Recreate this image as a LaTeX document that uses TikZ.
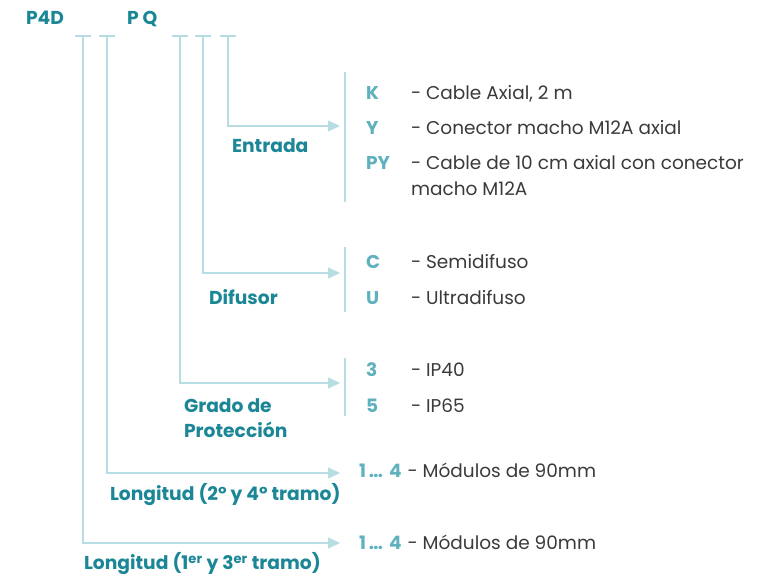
\documentclass[tikz,border=0pt]{standalone}
\usepackage{fontspec}
\setmainfont{Poppins}
\usetikzlibrary{arrows.meta}
\definecolor{darkteal}{HTML}{1B8796}
\definecolor{lightteal}{HTML}{5FB1BE}
\definecolor{linecol}{HTML}{B7DCE3}
\definecolor{txtgray}{HTML}{3A3A3A}
\begin{document}
\begin{tikzpicture}[x=1pt,y=-1pt,
  every node/.style={inner sep=0pt,outer sep=0pt,anchor=base west},
  code/.style={font=\fontsize{18.7}{22}\selectfont\bfseries,text=darkteal},
  lbl/.style={font=\fontsize{18.7}{25}\selectfont\bfseries,text=darkteal,align=left},
  keyc/.style={font=\fontsize{18.5}{22}\selectfont\bfseries,text=lightteal},
  desc/.style={font=\fontsize{18.5}{26}\selectfont,text=txtgray,align=left},
  conn/.style={draw=linecol,line width=1.5pt,-{Triangle[length=12pt,width=11pt]}},
  tick/.style={draw=linecol,line width=1.5pt},
  sepline/.style={draw=linecol,line width=1.5pt}]
\useasboundingbox (0,0) rectangle (769,580);
% header codes
\node[code] (p4d) at (26,24.5) {P4D};
\node[code] (pq) at (127,24.5) {P\hspace{4pt}Q};
% T ticks
\foreach \n/\x in {t1/83,t2/107,t3/180,t4/203,t5/228}{
  \coordinate (\n) at (\x,36);
  \draw[tick] ([xshift=-8pt]\n) -- ([xshift=8pt]\n);
}
% arrow ends
\coordinate (aE) at (340,126);
\coordinate (aD) at (340,273);
\coordinate (aG) at (340,383);
\coordinate (aL2) at (340,473);
\coordinate (aL1) at (340,543);
\draw[conn] (t5) |- (aE);
\draw[conn] (t4) |- (aD);
\draw[conn] (t3) |- (aG);
\draw[conn] (t2) |- (aL2);
\draw[conn] (t1) |- (aL1);
% group labels
\node[lbl] (entrada) at (232,152.5) {Entrada};
\node[lbl] (difusor) at (209,304.5) {Difusor};
\node[lbl] (grado) at (184,412.5) {Grado de};
\node[lbl] (proteccion) at (184,437.5) {Protección};
\node[lbl] (long2) at (110,500.5) {Longitud (2º y 4º tramo)};
\node[lbl] (long1) at (84,569.5) {Longitud (1\textsuperscript{er} y 3\textsuperscript{er} tramo)};
% separators
\coordinate (sE1) at (345,72); \coordinate (sE2) at (345,202);
\coordinate (sD1) at (345,247); \coordinate (sD2) at (345,312);
\coordinate (sG1) at (345,358); \coordinate (sG2) at (345,416);
\draw[sepline] (sE1) -- (sE2);
\draw[sepline] (sD1) -- (sD2);
\draw[sepline] (sG1) -- (sG2);
% Entrada options
\node[keyc] (kK) at (366,99.5) {K};
\node[desc] (dK) at (411,99.5) {- Cable Axial, 2 m};
\node[keyc] (kY) at (366,134.5) {Y};
\node[desc] (dY) at (411,134.5) {- Conector macho M12A axial};
\node[keyc] (kPY) at (366,169.5) {PY};
\node[desc] (dPY) at (411,169.5) {- Cable de 10 cm axial con conector};
\node[desc] (dPY2) at (411,195.5) {macho M12A};
% Difusor options
\node[keyc] (kC) at (366,268.5) {C};
\node[desc] (dC) at (411,268.5) {- Semidifuso};
\node[keyc] (kU) at (366,304.5) {U};
\node[desc] (dU) at (411,304.5) {- Ultradifuso};
% Grado options
\node[keyc] (k3) at (366,376.5) {3};
\node[desc] (d3) at (411,376.5) {- IP40};
\node[keyc] (k5) at (366,412.5) {5};
\node[desc] (d5) at (411,412.5) {- IP65};
% Longitud options
\node[keyc] (kL2) at (359,477.5) {1\hspace{3pt}…\hspace{6pt}4};
\node[desc] (dL2) at (kL2.base east) [xshift=6pt] {- Módulos de 90mm};
\node[keyc] (kL1) at (359,549.5) {1\hspace{3pt}…\hspace{6pt}4};
\node[desc] (dL1) at (kL1.base east) [xshift=6pt] {- Módulos de 90mm};
\end{tikzpicture}
\end{document}
